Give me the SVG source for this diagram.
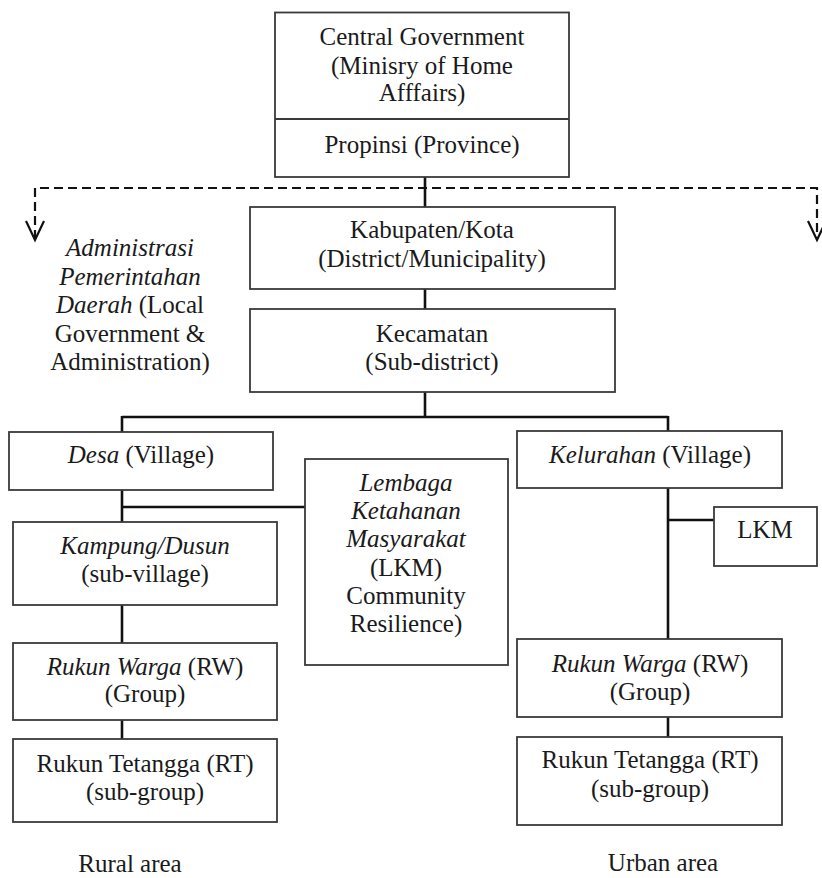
<svg xmlns="http://www.w3.org/2000/svg" width="822" height="878" viewBox="0 0 822 878">
<style>
.box{fill:#fff;stroke:#3a3a3a;stroke-width:1.8}
.t{font-family:"Liberation Serif","Times New Roman",serif;font-size:25px;fill:#1a1a1a;text-anchor:middle}
.i{font-style:italic}
.c{stroke:#111;stroke-width:2.6;fill:none}
.d{stroke:#111;stroke-width:2.2;fill:none;stroke-dasharray:9 5}
.a{stroke:#111;stroke-width:2.2;fill:none}
</style>
<rect width="822" height="878" fill="#fff"/>
<g id="connectors">
<path class="d" d="M35,239 V188 H817 V239"/>
<path class="a" d="M26,221 L35,240 L44,221"/>
<path class="a" d="M808,221 L817,240 L826,221"/>
<path class="c" d="M425,177 V207"/>
<path class="c" d="M425,289 V309"/>
<path class="c" d="M425,392 V417 M122,417 H668 M122,416 V432 M668,416 V431"/>
<path class="c" d="M122,490 V522 M122,507 H305"/>
<path class="c" d="M122,605 V643"/>
<path class="c" d="M122,720 V739"/>
<path class="c" d="M668,488 V639 M668,520 H714"/>
<path class="c" d="M668,717 V748"/>
</g>
<g id="central">
<rect class="box" x="275" y="12.5" width="294" height="164.5"/>
<line x1="275" y1="119" x2="569" y2="119" stroke="#3a3a3a" stroke-width="1.8"/>
<text class="t" x="422" y="45">Central Government</text>
<text class="t" x="422" y="74">(Minisry of Home</text>
<text class="t" x="422" y="101">Afffairs)</text>
</g>
<g id="propinsi">
<text class="t" x="422" y="153">Propinsi (Province)</text>
</g>
<g id="kabupaten">
<rect class="box" x="250" y="207" width="365" height="82"/>
<text class="t" x="432" y="238">Kabupaten/Kota</text>
<text class="t" x="432" y="267">(District/Municipality)</text>
</g>
<g id="kecamatan">
<rect class="box" x="250" y="309" width="365" height="83"/>
<text class="t" x="432" y="342">Kecamatan</text>
<text class="t" x="432" y="370">(Sub-district)</text>
</g>
<g id="admin-label">
<text class="t" x="130" y="256"><tspan class="i">Administrasi</tspan></text>
<text class="t" x="130" y="285"><tspan class="i">Pemerintahan</tspan></text>
<text class="t" x="130" y="313"><tspan class="i">Daerah</tspan> (Local</text>
<text class="t" x="130" y="342">Government &amp;</text>
<text class="t" x="130" y="370">Administration)</text>
</g>
<g id="desa">
<rect class="box" x="9" y="432" width="264" height="58"/>
<text class="t" x="141" y="463"><tspan class="i">Desa</tspan> (Village)</text>
</g>
<g id="kampung">
<rect class="box" x="13" y="522" width="264" height="83"/>
<text class="t" x="145" y="554" font-style="italic">Kampung/Dusun</text>
<text class="t" x="145" y="582">(sub-village)</text>
</g>
<g id="rw-rural">
<rect class="box" x="13" y="643" width="264" height="77"/>
<text class="t" x="145" y="675"><tspan class="i">Rukun Warga</tspan> (RW)</text>
<text class="t" x="145" y="702">(Group)</text>
</g>
<g id="rt-rural">
<rect class="box" x="13" y="739" width="264" height="83"/>
<text class="t" x="145" y="772">Rukun Tetangga (RT)</text>
<text class="t" x="145" y="800">(sub-group)</text>
</g>
<g id="lembaga">
<rect class="box" x="305" y="459" width="203" height="206"/>
<text class="t" x="406" y="491" font-style="italic">Lembaga</text>
<text class="t" x="406" y="519" font-style="italic">Ketahanan</text>
<text class="t" x="406" y="547" font-style="italic">Masyarakat</text>
<text class="t" x="406" y="576">(LKM)</text>
<text class="t" x="406" y="604">Community</text>
<text class="t" x="406" y="632">Resilience)</text>
</g>
<g id="kelurahan">
<rect class="box" x="517" y="431" width="265" height="57"/>
<text class="t" x="650" y="463"><tspan class="i">Kelurahan</tspan> (Village)</text>
</g>
<g id="lkm">
<rect class="box" x="714" y="507" width="103" height="59"/>
<text class="t" x="765" y="538">LKM</text>
</g>
<g id="rw-urban">
<rect class="box" x="517" y="639" width="265" height="78"/>
<text class="t" x="650" y="672"><tspan class="i">Rukun Warga</tspan> (RW)</text>
<text class="t" x="650" y="700">(Group)</text>
</g>
<g id="rt-urban">
<rect class="box" x="517" y="737" width="265" height="88"/>
<text class="t" x="650" y="768">Rukun Tetangga (RT)</text>
<text class="t" x="650" y="797">(sub-group)</text>
</g>
<g id="rural-label">
<text class="t" x="130" y="872">Rural area</text>
</g>
<g id="urban-label">
<text class="t" x="663" y="871">Urban area</text>
</g>
</svg>
